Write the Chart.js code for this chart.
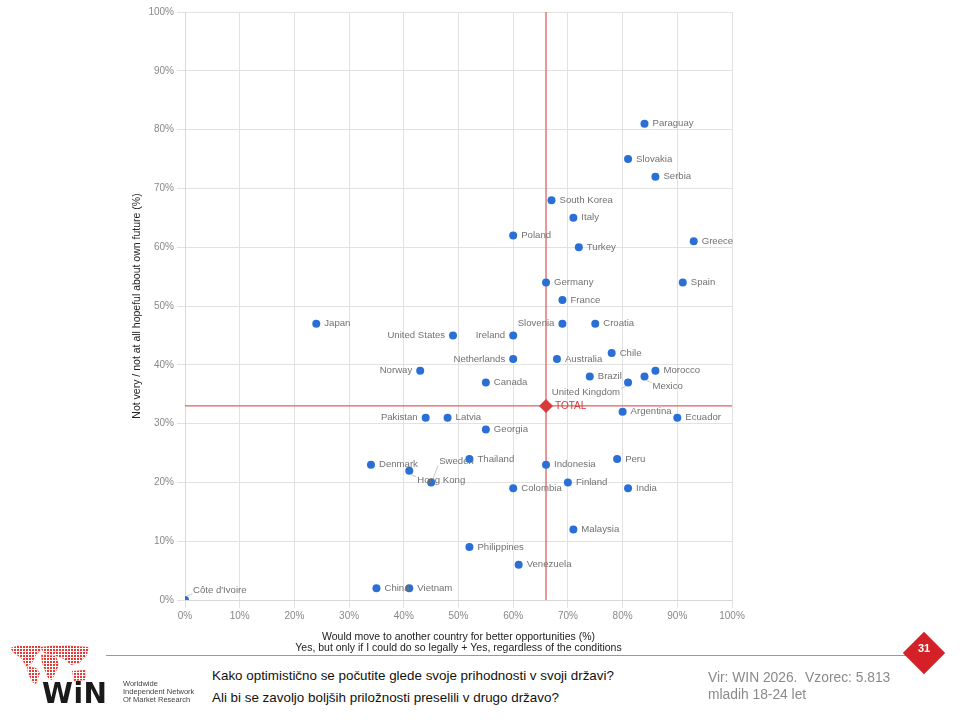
<!DOCTYPE html>
<html>
<head>
<meta charset="utf-8">
<script src="https://cdn.jsdelivr.net/npm/chart.js@4.4.1/dist/chart.umd.min.js"></script>
<style>
body{margin:0;background:#fff;font-family:"Liberation Sans",Arial,sans-serif;}
#wrap{position:absolute;left:0;top:0;width:960px;height:660px;}
#map{position:absolute;left:10px;top:645px;width:80px;height:40px;}
.dots{position:absolute;left:0;top:0;width:80px;height:40px;background-color:#ea3a36;
  background-image:linear-gradient(90deg,#fff 1px,transparent 1px),linear-gradient(#fff 1px,transparent 1px);
  background-size:3px 3px;}
#rule{position:absolute;left:106px;top:655px;width:800px;height:1px;background:#9a9a9a;}
#page{position:absolute;left:909px;top:638px;width:30px;height:30px;background:#d42027;transform:rotate(45deg);}
#pagenum{position:absolute;left:904px;top:642px;width:40px;text-align:center;color:#fff;font:bold 11px Arial,sans-serif;}
#win{position:absolute;left:42px;top:677px;font:bold 28px "DejaVu Sans",sans-serif;color:#1a1a1a;letter-spacing:0.5px;}
#winsub{position:absolute;left:123px;top:680px;font:7.5px Arial,sans-serif;line-height:8px;color:#444;}
.q{position:absolute;left:212px;font-size:13.4px;color:#111;}
.src{position:absolute;left:708px;font-size:13.8px;color:#8a8a8a;}
</style>
</head>
<body>
<div id="wrap"><canvas id="scatter"></canvas></div>

<div id="map">
  <div class="dots" style="clip-path:polygon(0px 3px,10px 0px,30px 0px,32px 4px,26px 10px,22px 18px,16px 22px,12px 14px,4px 8px);"></div>
  <div class="dots" style="clip-path:polygon(17px 21px,26px 23px,30px 28px,26px 39px,22px 37px,18px 28px);"></div>
  <div class="dots" style="clip-path:polygon(30px 2px,50px 0px,79px 2px,77px 10px,69px 18px,61px 20px,54px 14px,44px 10px,34px 8px);"></div>
  <div class="dots" style="clip-path:polygon(31px 9px,46px 11px,49px 20px,42px 35px,38px 33px,32px 18px);"></div>
  <div class="dots" style="clip-path:polygon(62px 26px,75px 25px,76px 35px,64px 36px);"></div>
</div>
<div id="win">WiN</div>
<div id="winsub">Worldwide<br>Independent Network<br>Of Market Research</div>
<div id="rule"></div>
<div id="page"></div>
<div id="pagenum">31</div>

<div class="q" style="top:668px;">Kako optimistično se počutite glede svoje prihodnosti v svoji državi?</div>
<div class="q" style="top:690px;">Ali bi se zavoljo boljših priložnosti preselili v drugo državo?</div>
<div class="src" style="top:670px;">Vir: WIN 2026.&nbsp; Vzorec: 5.813</div>
<div class="src" style="top:687px;">mladih 18-24 let</div>

<script>
// values (percent)
const countries = ["Paraguay","Slovakia","Serbia","South Korea","Italy","Poland","Greece","Turkey",
  "Germany","Spain","France","Japan","Slovenia","Croatia","United States","Ireland","Chile",
  "Netherlands","Australia","Norway","Morocco","Brazil","Mexico","Canada","United Kingdom",
  "Argentina","Pakistan","Latvia","Ecuador","Georgia","Thailand","Peru","Denmark","Indonesia",
  "Hong Kong","Sweden","Finland","Colombia","India","Malaysia","Philippines","Venezuela",
  "China","Vietnam","Côte d'Ivoire"];

const wouldMove = [84,81,86,67,71,60,93,72,66,91,69,24,69,75,49,60,78,60,68,43,86,74,84,55,81,
  80,44,48,90,55,52,79,34,66,41,45,70,60,81,71,52,61,35,41,0];

const notHopeful = [81,75,72,68,65,62,61,60,54,54,51,47,47,47,45,45,42,41,41,39,39,38,38,37,37,
  32,31,31,31,29,24,24,23,23,22,20,20,19,19,12,9,6,2,2,0];

const totalLabel = "TOTAL";
const totalMove = 66;
const totalHopeless = 33;

const tickValues = [0,10,20,30,40,50,60,70,80,90,100];

const xTitle = ["Would move to another country for better opportunities (%)",
  "Yes, but only if I could do so legally + Yes, regardless of the conditions"];
const yTitle = "Not very / not at all hopeful about own future (%)";

// label placement (style only)
const labelSpot = {
  "United States":{dx:-8,dy:0,align:"right"},
  "Ireland":{dx:-8,dy:0,align:"right"},
  "Netherlands":{dx:-8,dy:0,align:"right"},
  "Slovenia":{dx:-8,dy:0,align:"right"},
  "Norway":{dx:-8,dy:0,align:"right"},
  "Pakistan":{dx:-8,dy:0,align:"right"},
  "United Kingdom":{dx:-8,dy:10,align:"right",leader:true},
  "Mexico":{dx:8,dy:10,align:"left",leader:true},
  "Sweden":{dx:8,dy:-21,align:"left",leader:true},
  "Hong Kong":{dx:8,dy:10,align:"left",leader:true},
  "Côte d'Ivoire":{dx:8,dy:-10,align:"left",leader:true}
};

let points = [];
countries.forEach((c,i) => {
  points.push({x:wouldMove[i], y:notHopeful[i], name:c});
});

const pointLabels = {
  id:"pointLabels",
  afterDatasetsDraw(chart){
    const ctx = chart.ctx;
    ctx.save();
    ctx.font = "9.6px 'Liberation Sans', Arial, sans-serif";
    ctx.textBaseline = "middle";

    let meta = chart.getDatasetMeta(2);
    meta.data.forEach((el,i) => {
      let name = countries[i];
      let spot = labelSpot[name] || {dx:8,dy:0,align:"left"};
      let tx = el.x + spot.dx;
      let ty = el.y + spot.dy;
      if(spot.leader){
        ctx.strokeStyle = "#c8c8c8";
        ctx.lineWidth = 1;
        ctx.beginPath();
        let sx = Math.sign(spot.dx), sy = Math.sign(spot.dy);
        ctx.moveTo(el.x + sx*2, el.y + sy*4);
        ctx.lineTo(tx - sx*1, ty - sy*4);
        ctx.stroke();
      }
      ctx.fillStyle = "#727272";
      ctx.textAlign = spot.align;
      ctx.fillText(name, tx, ty);
    });

    let tm = chart.getDatasetMeta(3).data[0];
    ctx.fillStyle = "#d23c3c";
    ctx.textAlign = "left";
    ctx.font = "10px 'Liberation Sans', Arial, sans-serif";
    ctx.fillText(totalLabel, tm.x + 9, tm.y);
    ctx.restore();
  }
};

const ctx = document.getElementById("scatter");

new Chart(ctx,{
  type:"scatter",
  data:{
    datasets:[
      {
        type:"line",
        data:[{x:totalMove,y:tickValues[0]},{x:totalMove,y:tickValues[tickValues.length-1]}],
        borderColor:"#dc6262",
        borderWidth:1.3,
        pointRadius:0,
        order:4
      },
      {
        type:"line",
        data:[{x:tickValues[0],y:totalHopeless},{x:tickValues[tickValues.length-1],y:totalHopeless}],
        borderColor:"#dc6262",
        borderWidth:1.3,
        pointRadius:0,
        order:3
      },
      {
        data:points,
        backgroundColor:"#2a6fd6",
        borderWidth:0,
        pointRadius:4,
        order:2
      },
      {
        data:[{x:totalMove,y:totalHopeless}],
        pointStyle:"rectRot",
        backgroundColor:"#d63a3a",
        borderWidth:0,
        pointRadius:7,
        order:1
      }
    ]
  },
  options:{
    responsive:true,
    maintainAspectRatio:false,
    animation:false,
    layout:{padding:{left:120,right:228,top:12,bottom:0}},
    plugins:{legend:{display:false},tooltip:{enabled:false}},
    scales:{
      x:{
        type:"linear",
        min:0,max:100,
        afterFit(scale){ scale.height = 60; },
        afterBuildTicks(scale){ scale.ticks = tickValues.map(v => ({value:v})); },
        ticks:{
          padding:2,
          color:"#888",
          font:{size:10,family:"'Liberation Sans', Arial, sans-serif"},
          callback:v => v + "%"
        },
        grid:{color:"#e2e2e2",tickLength:8},
        border:{color:"#d8d8d8"},
        title:{
          display:true,
          text:xTitle,
          color:"#222",
          font:{size:10.5,lineHeight:"11px",family:"'Liberation Sans', Arial, sans-serif"},
          padding:{top:2,bottom:6.5}
        }
      },
      y:{
        type:"linear",
        min:0,max:100,
        afterFit(scale){ scale.width = 65; },
        afterBuildTicks(scale){ scale.ticks = tickValues.map(v => ({value:v})); },
        ticks:{
          padding:3,
          color:"#888",
          font:{size:10,family:"'Liberation Sans', Arial, sans-serif"},
          callback:v => v + "%"
        },
        grid:{color:"#e2e2e2",tickLength:8},
        border:{color:"#d8d8d8"},
        title:{
          display:true,
          text:yTitle,
          color:"#222",
          font:{size:10.5,lineHeight:"11px",family:"'Liberation Sans', Arial, sans-serif"},
          padding:{top:11.5,bottom:0}
        }
      }
    }
  },
  plugins:[pointLabels]
});
</script>
</body>
</html>
